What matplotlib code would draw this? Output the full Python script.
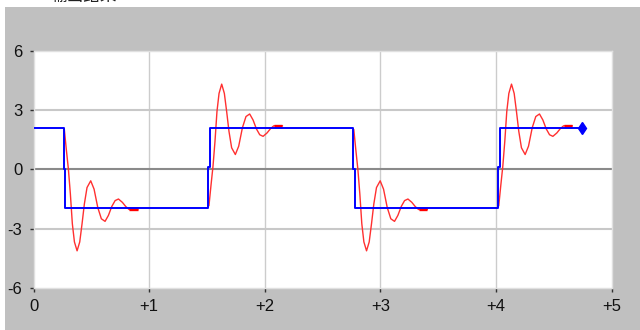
import matplotlib
matplotlib.use('Agg')
import matplotlib.pyplot as plt
from matplotlib.patches import Rectangle

# square wave (input), drawn as steps
blue_t = [0.0, 0.262, 0.273, 1.513, 1.527, 2.766, 2.778, 4.020, 4.033, 4.746]
blue_y = [2.1, 0.0, -1.93, 0.1, 2.1, 0.0, -1.93, 0.1, 2.1, 2.1]

# damped response after each edge (time offset from the edge)
red_dt = [0.005, 0.022, 0.040, 0.057, 0.074, 0.092, 0.115, 0.138, 0.158, 0.178,
          0.201, 0.233, 0.262, 0.294, 0.325, 0.357, 0.386, 0.415, 0.444, 0.473,
          0.507, 0.536, 0.565, 0.640]
red_fall = [2.0, 1.0, 0.0, -1.25, -2.75, -3.67, -4.12, -3.67, -2.75, -1.75,
            -0.92, -0.58, -1.0, -1.93, -2.5, -2.63, -2.33, -1.88, -1.58, -1.5,
            -1.67, -1.88, -2.03, -2.03]
red_rise = [-1.83, -0.83, 0.17, 1.42, 2.92, 3.84, 4.31, 3.84, 2.92, 1.92,
            1.09, 0.75, 1.17, 2.1, 2.67, 2.8, 2.5, 2.05, 1.75, 1.67,
            1.84, 2.05, 2.2, 2.2]
red_starts = [0.262, 1.513, 2.766, 4.020]

x_ticks = [0, 1, 2, 3, 4, 5]
x_labels = ['0', '+1', '+2', '+3', '+4', '+5']
y_ticks = [-6, -3, 0, 3, 6]
y_labels = ['-6', '-3', '0', '3', '6']

tick_font = ['Liberation Sans Narrow', 'Liberation Sans', 'DejaVu Sans']

fig = plt.figure(figsize=(6.4, 3.3), dpi=100, facecolor='white')
bg = Rectangle((5 / 640, 0), 1, 323 / 330, transform=fig.transFigure,
               facecolor='#c0c0c0', edgecolor='none', zorder=-10)
fig.add_artist(bg)

# title line, cut off by the top of the picture
fig.text(50 / 640, 1 + 4 / 330, '输出结果', fontsize=12, ha='left', va='center',
         family=['Noto Sans CJK SC', 'DejaVu Sans'], color='#202020')

ax = fig.add_axes([33.5 / 640, 1 - 288 / 330, 578 / 640, 237.3 / 330])
ax.set_zorder(1)
ax.set_facecolor('white')
ax.set_xlim(0, 5)
ax.set_ylim(-6, 6)

for x in x_ticks[1:-1]:
    ax.axvline(x, color='#cccccc', lw=1, zorder=1)
for y in [-3, 3]:
    ax.axhline(y, color='#c8c8c8', lw=1.5, zorder=1)
ax.axhline(0, color='#8a8a8a', lw=1.5, zorder=1)

# response curves
for i, t0 in enumerate(red_starts):
    vals = red_fall if i % 2 == 0 else red_rise
    ts = [t0 + d for d in red_dt]
    ax.plot(ts, vals, color='#ff3030', lw=1, zorder=2)
    ax.plot(ts[-2:], vals[-2:], color='#ff0000', lw=2.4, solid_capstyle='butt', zorder=2)

ax.step(blue_t, blue_y, where='post', color='#0000ff', lw=1.4, zorder=3)
ax.plot(blue_t[-1], blue_y[-1], marker='d', ms=6.5, color='#0000ff', zorder=4)

ax.set_xticks(x_ticks)
ax.set_xticklabels(x_labels)
ax.set_yticks(y_ticks)
ax.set_yticklabels(y_labels)
ax.tick_params(direction='out', length=3, width=1, color='#303030',
               labelsize=12, labelcolor='#101010')
ax.tick_params(axis='x', pad=5)
ax.tick_params(axis='y', pad=5)
for lab in ax.get_xticklabels() + ax.get_yticklabels():
    lab.set_family(tick_font)

for s in ax.spines.values():
    s.set_color('#e0e0e0')
    s.set_linewidth(1)

fig.savefig('out.png', dpi=100, facecolor=fig.get_facecolor())
